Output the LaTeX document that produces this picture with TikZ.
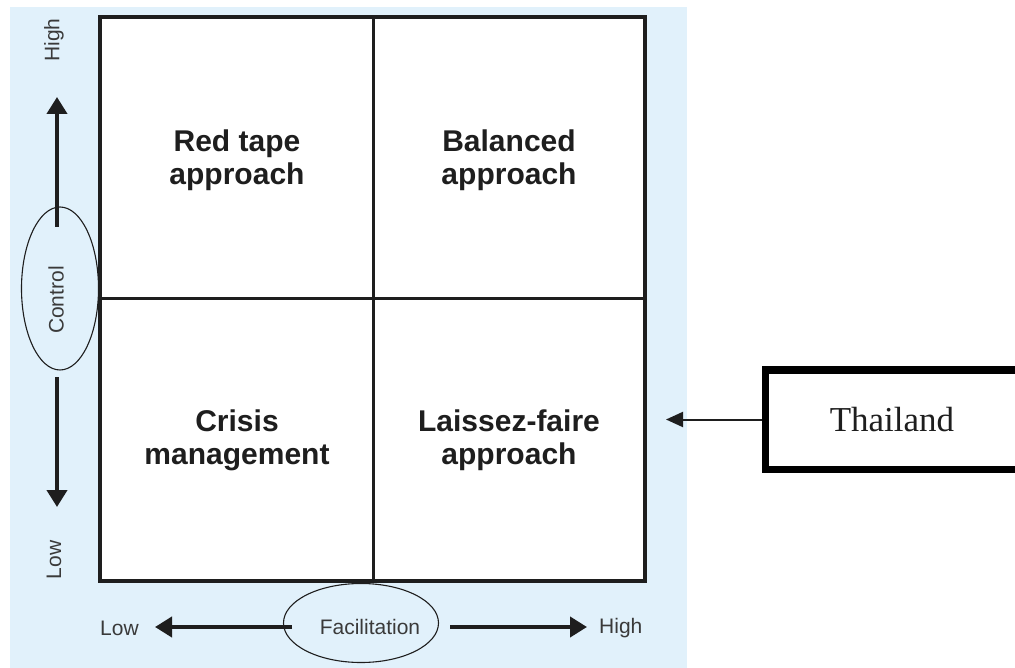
\documentclass[tikz,border=0pt]{standalone}
\usepackage{fontspec}
\setmainfont{Liberation Serif}
\setsansfont{Liberation Sans}
\usetikzlibrary{arrows.meta,shapes.geometric}
\definecolor{bgblue}{HTML}{E1F1FB}
\definecolor{ink}{HTML}{1E1E1E}
\definecolor{labelgray}{HTML}{3A3A3A}
\tikzset{
  quad/.style={font=\sffamily\bfseries\fontsize{30}{33}\selectfont, align=center, text=ink},
  axislbl/.style={font=\sffamily\fontsize{21}{24}\selectfont, text=labelgray, inner sep=0pt},
  axisoval/.style={draw=ink, line width=1.1pt, ellipse, inner sep=0pt},
  axisarrow/.style={draw=ink, line width=4pt, -{Triangle[width=20pt,length=17pt]}},
  thinarrow/.style={draw=ink, line width=2pt, -{Triangle[width=15pt,length=17pt]}},
}
\begin{document}
\begin{tikzpicture}[x=1pt,y=-1pt]
\useasboundingbox (0,0) rectangle (1015,668);
\clip (0,0) rectangle (1015,668);
% background panel
\fill[bgblue] (10,7) rectangle (687,668);
% grid
\fill[white] (100,17) rectangle (645,581);
\draw[ink, line width=3pt] (373,17) -- (373,581);
\draw[ink, line width=3pt] (100,299) -- (645,299);
\draw[ink, line width=4pt] (100,17) rectangle (645,581);
\coordinate (gridE) at (645,418);
% quadrant labels
\node[quad] (rt) at (237,160) {Red tape\\approach};
\node[quad] (ba) at (509,160) {Balanced\\approach};
\node[quad] (cm) at (237,440) {Crisis\\management};
\node[quad] (lf) at (509,440) {Laissez-faire\\approach};
% control axis
\node[axisoval, minimum width=77pt, minimum height=163pt] (ctrl) at (60,288.5) {};
\node[axislbl, rotate=90] (ctrltxt) at (56,300) {Control};
\coordinate (upstart) at (57,227);
\coordinate (uptip) at (57,97);
\coordinate (dnstart) at (57,377);
\coordinate (dntip) at (57,507);
\draw[axisarrow] (upstart) -- (uptip);
\draw[axisarrow] (dnstart) -- (dntip);
\node[axislbl, rotate=90] (chigh) at (54,40) {High};
\node[axislbl, rotate=90] (clow) at (54,560) {Low};
% facilitation axis
\node[axisoval, minimum width=155pt, minimum height=79pt] (fac) at (361,623) {};
\node[axislbl] (factxt) at (370,627) {Facilitation};
\coordinate (lstart) at (292,627);
\coordinate (ltip) at (155,627);
\coordinate (rstart) at (450,627);
\coordinate (rtip) at (587,627);
\draw[axisarrow] (lstart) -- (ltip);
\draw[axisarrow] (rstart) -- (rtip);
\node[axislbl, anchor=west] (flow) at (100,628) {Low};
\node[axislbl, anchor=west] (fhigh) at (599,628) {High};
% Thailand box
\node[draw=black, line width=7pt, minimum width=270pt, minimum height=99pt, anchor=west, inner sep=0pt] (th) at (762,419.5) {};
\node[font=\rmfamily\fontsize{35}{40}\selectfont, text=ink] (thtxt) at (892,420) {Thailand};
\coordinate (thtip) at (666,419.5);
\draw[thinarrow] (th.west) -- (thtip);
\end{tikzpicture}
\end{document}
